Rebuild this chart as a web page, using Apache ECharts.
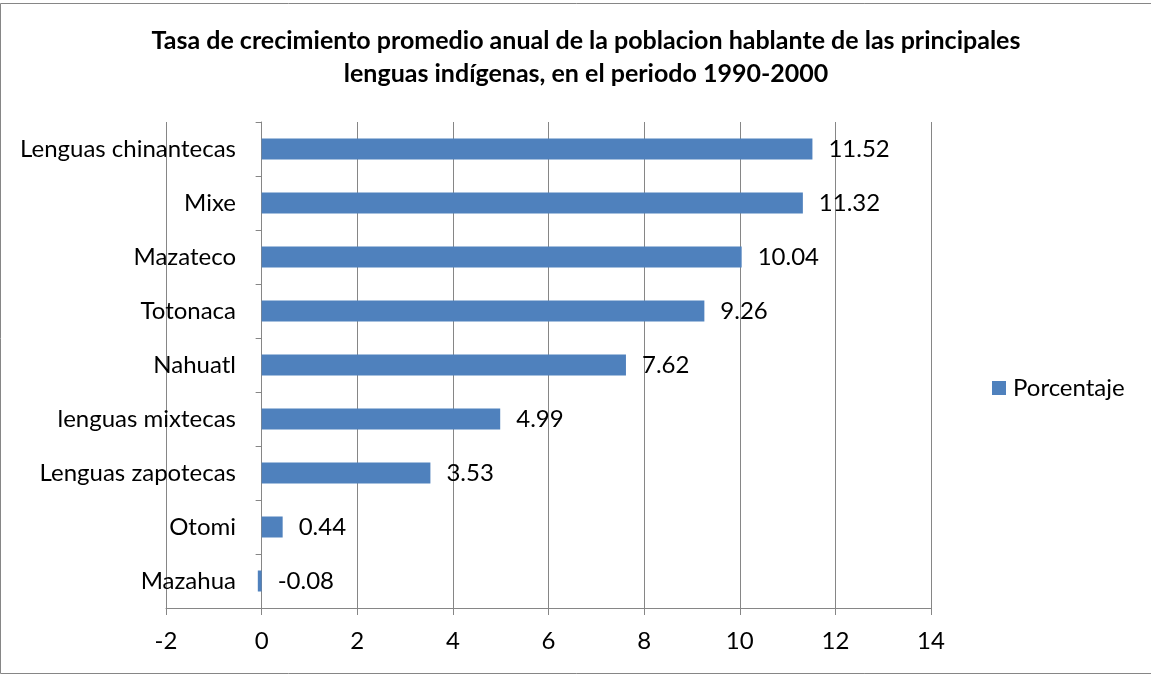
<!DOCTYPE html>
<html>
<head>
<meta charset="utf-8">
<script src="https://cdn.jsdelivr.net/npm/echarts@6/dist/echarts.min.js"></script>
<style>
html,body{margin:0;padding:0;background:#fff;}
#c{width:1151px;height:675px;}
</style>
</head>
<body>
<div id="c"></div>
<script>
var categories = ["Lenguas chinantecas","Mixe","Mazateco","Totonaca","Nahuatl","lenguas mixtecas","Lenguas zapotecas","Otomi","Mazahua"];
var values = [11.52, 11.32, 10.04, 9.26, 7.62, 4.99, 3.53, 0.44, -0.08];
var seriesName = "Porcentaje";
var xTicks = [-2, 0, 2, 4, 6, 8, 10, 12, 14];
var titleText = "Tasa de crecimiento promedio anual de la poblacion hablante de las principales\nlenguas indígenas, en el periodo 1990-2000";

var chart = echarts.init(document.getElementById('c'), null, {renderer:'canvas'});
var FONT = 'Lato, "Open Sans", sans-serif';
chart.setOption({
  backgroundColor:'#fff',
  animation:false,
  title:{
    text:titleText,
    left:581, top:19, textAlign:'center',
    textStyle:{fontFamily:FONT, fontWeight:'bold', fontSize:25, lineHeight:33, color:'#000'}
  },
  legend:{
    left:987, top:371, orient:'vertical',
    itemWidth:14, itemHeight:14, itemGap:8,
    icon:'rect',
    data:[seriesName],
    textStyle:{fontFamily:FONT, fontSize:24, color:'#000', padding:[0,0,0,2]}
  },
  grid:{left:166, right:220, top:122, bottom:67, containLabel:false, outerBoundsMode:'none'},
  xAxis:{
    type:'value', min:xTicks[0], max:xTicks[xTicks.length-1], interval:2,
    axisLine:{show:true, onZero:false, lineStyle:{color:'#868686', width:1}},
    axisTick:{show:true, length:7, lineStyle:{color:'#868686'}},
    splitLine:{show:true, lineStyle:{color:'#868686', width:1}},
    axisLabel:{fontFamily:FONT, fontSize:24, color:'#000', margin:21}
  },
  yAxis:{
    type:'category', inverse:true, data:categories,
    axisLine:{show:true, onZero:true, lineStyle:{color:'#868686', width:1}},
    axisTick:{show:true, length:6, lineStyle:{color:'#868686'}},
    axisLabel:{fontFamily:FONT, fontSize:24, color:'#000', margin:-70}
  },
  series:[{
    name:seriesName, type:'bar', data:values, barWidth:21,
    itemStyle:{color:'#4F81BD'},
    label:{show:true, position:'right', distance:16, fontFamily:FONT, fontSize:24, color:'#000',
      formatter:function(p){return p.value.toFixed(2);}}
  }],
  graphic:[{
    type:'rect', silent:true, z:-1,
    shape:{x:0.5, y:3.5, width:1160, height:670},
    style:{fill:null, stroke:'#868686', lineWidth:1}
  }]
});
</script>
</body>
</html>
